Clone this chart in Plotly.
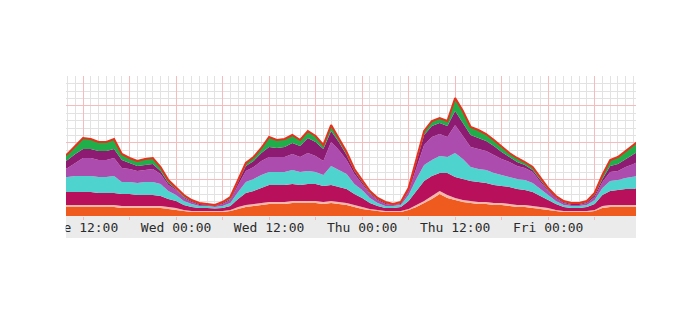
import pandas as pd
import plotly.graph_objects as go

# Sample times (Tue 09:30 .. Fri 11:30)
times = (["2013-01-15 09:30"]
         + [t.strftime("%Y-%m-%d %H:%M") for t in pd.date_range("2013-01-15 10:00", "2013-01-18 11:00", freq="h")]
         + ["2013-01-18 11:30"])

# Stacked layer heights (arbitrary units), bottom to top
orange = [9, 9, 9, 9, 9, 9, 9, 9, 8, 8, 8, 8, 8, 8, 7, 6, 5, 4, 4, 4, 4, 4, 5, 7, 9, 10, 11,
          12, 12, 12, 13, 13, 13, 13, 12, 13, 12, 11, 9, 7, 6, 5, 4, 4, 4, 6, 9, 13, 17, 22, 18,
          16, 14, 13, 12, 12, 11, 11, 10, 9, 9, 8, 7, 6, 5, 4, 4, 4, 4, 5, 8, 9, 9, 9, 9, 9]
pink = [2, 2, 2, 2, 2, 2, 2, 2, 2, 2, 2, 2, 2, 2, 2, 2, 1, 1, 1, 1, 1, 1, 1, 2, 2, 2, 2,
        2, 2, 2, 2, 2, 2, 2, 2, 2, 2, 2, 2, 2, 1, 1, 1, 1, 1, 1, 2, 2, 3, 3, 3,
        2, 2, 2, 2, 2, 2, 2, 2, 2, 2, 2, 2, 2, 1, 1, 1, 1, 1, 1, 2, 2, 2, 2, 2, 2]
crimson = [13, 13, 13, 13, 13, 12, 12, 12, 12, 12, 11, 11, 11, 10, 8, 7, 5, 4, 3, 3, 2.5, 3, 4, 8, 12, 13, 15,
           17, 17, 17, 17, 16, 17, 17, 16, 16, 15, 14, 11, 9, 6, 4, 3, 3, 4, 8, 14, 20, 20, 18, 22,
           21, 21, 20, 20, 19, 18, 17, 17, 16, 15, 14, 11, 8, 6, 4, 3, 3, 4, 6, 11, 14, 15, 16, 16, 17]
cyan = [15, 15, 16, 16, 16, 16, 16, 17, 12, 12, 12, 13, 13, 12, 8, 6, 4, 3, 2, 2, 1.5, 2, 3, 7, 11, 12, 13,
        13, 13, 13, 14, 13, 13, 12, 11, 19, 17, 15, 10, 8, 5, 3, 2, 2, 2, 6, 12, 16, 16, 17, 16,
        24, 20, 14, 13, 13, 12, 11, 10, 10, 10, 9, 7, 5, 3, 2, 2, 2, 2, 4, 7, 10, 10, 11, 12, 12]
purple = [8, 9, 13, 18, 18, 17, 17, 18, 14, 13, 12, 12, 13, 10, 6, 5, 3, 2, 1, 1, 1, 2, 3, 7, 11, 12, 14,
          15, 15, 15, 16, 15, 18, 16, 14, 24, 20, 14, 10, 6, 4, 3, 2, 1, 1, 4, 11, 20, 23, 22, 20,
          28, 23, 20, 20, 19, 18, 16, 15, 13, 12, 11, 7, 4, 3, 2, 1, 1, 2, 3, 6, 9, 9, 11, 13, 14]
magenta = [7, 8, 9, 9, 9, 9, 9, 9, 8, 6, 5, 5, 5, 3, 2, 1, 1, 1, 1, 0.5, 0.5, 1, 1, 3, 5, 6, 8,
           10, 9, 10, 11, 11, 15, 14, 12, 11, 8, 5, 3, 2, 1, 1, 1, 0.5, 1, 2, 5, 10, 11, 11, 11,
           14, 13, 12, 11, 10, 9, 7, 5, 4, 3, 2, 2, 1, 1, 1, 1, 1, 1, 2, 3, 6, 7, 8, 10, 10]
green = [6, 6, 8, 11, 10, 9, 9, 10, 6, 5, 5, 6, 6, 4, 3, 2, 2, 1, 1, 0.5, 0.5, 1, 2, 2, 3, 4, 5,
         10, 8, 8, 8, 6, 7, 6, 4, 6, 4, 3, 2, 2, 2, 1, 1, 0.5, 1, 1, 3, 4, 5, 5, 5,
         13, 12, 8, 8, 7, 6, 5, 4, 4, 3, 3, 2, 2, 1, 1, 1, 1, 1, 2, 4, 6, 7, 8, 9, 10]

layers = [
    ("orange", orange, "#ef5a1e"),
    ("pink", pink, "#f7b7aa"),
    ("crimson", crimson, "#b8105a"),
    ("cyan", cyan, "#4fd3cf"),
    ("purple", purple, "#ac4cae"),
    ("magenta", magenta, "#8e1b72"),
    ("green", green, "#1fae49"),
]

tick_vals = ["2013-01-15 12:00", "2013-01-15 18:00", "2013-01-16 00:00", "2013-01-16 06:00",
             "2013-01-16 12:00", "2013-01-16 18:00", "2013-01-17 00:00", "2013-01-17 06:00",
             "2013-01-17 12:00", "2013-01-17 18:00", "2013-01-18 00:00", "2013-01-18 06:00"]
tick_text = ["Tue 12:00", "", "Wed 00:00", "", "Wed 12:00", "", "Thu 00:00", "",
             "Thu 12:00", "", "Fri 00:00", ""]

fig = go.Figure()
for name, vals, col in layers:
    top = name == "green"
    fig.add_trace(go.Scatter(
        x=times, y=vals, name=name, mode="lines", stackgroup="s",
        fillcolor=col,
        line=dict(color="#e8301c" if top else col, width=2 if top else 0),
        hoverinfo="skip",
    ))

fig.update_layout(
    width=700, height=320,
    margin=dict(l=66, r=64, t=76, b=104),
    paper_bgcolor="white", plot_bgcolor="white",
    showlegend=False,
    shapes=[
        dict(type="rect", xref="paper", yref="paper", x0=0, x1=1, y0=-22 / 140, y1=0,
             fillcolor="#ebebeb", line=dict(width=0), layer="below"),
        dict(type="rect", xref="paper", yref="paper", x0=-66 / 570, x1=-0.0005, y0=-0.3, y1=0,
             fillcolor="white", line=dict(width=0), layer="above"),
    ],
)
fig.update_xaxes(
    range=["2013-01-15 09:48", "2013-01-18 11:20"],
    tickmode="array", tickvals=tick_vals, ticktext=tick_text,
    ticks="outside", ticklen=3, tickcolor="#f4b8b8",
    ticklabelstandoff=-4,
    tickfont=dict(family="DejaVu Sans Mono", size=13, color="#2a2a2a"),
    showgrid=True, gridcolor="#f4bcbc", gridwidth=1,
    minor=dict(tickmode="linear", tick0="2013-01-15 00:00", dtick=3600000,
               showgrid=True, gridcolor="#e2e2e2", ticks=""),
    showline=False, zeroline=False,
)
fig.update_yaxes(
    range=[0, 140], tickmode="linear", tick0=0, dtick=140 / 3.818,
    showticklabels=False, ticks="",
    showgrid=True, gridcolor="#f4bcbc", gridwidth=1,
    minor=dict(tickmode="linear", tick0=0, dtick=140 / 3.818 / 5,
               showgrid=True, gridcolor="#e2e2e2"),
    showline=False, zeroline=False,
)

fig.write_html("out.html")
